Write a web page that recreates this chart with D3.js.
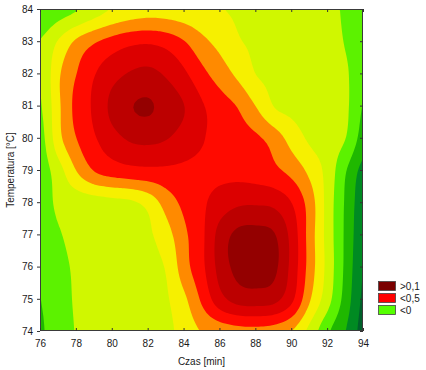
<!DOCTYPE html>
<html><head><meta charset="utf-8">
<script src="https://cdn.jsdelivr.net/npm/d3@7"></script>
<style>
body{margin:0;background:#fff}
svg{display:block}
text{font-family:"Liberation Sans",Arial,sans-serif;fill:#1a1a1a;font-size:10px}
</style>
</head><body>
<svg id="chart" width="426" height="370"></svg>
<script>
// ---- data ----
const xTicks = [76, 78, 80, 82, 84, 86, 88, 90, 92, 94];
const yTicks = [74, 75, 76, 77, 78, 79, 80, 81, 82, 83, 84];
const gridX = [76, 77, 78, 79, 80, 81, 82, 83, 84, 85, 86, 87, 88, 89, 90, 91, 92, 93, 94];
const gridY = [84, 83, 82, 81, 80, 79, 78, 77, 76, 75, 74];
// surface level read at each grid node (rows follow gridY, columns follow gridX)
const zRows = [
  [3.2, 3.6, 4.0, 4.6, 5.15, 5.5, 5.65, 5.6, 5.45, 5.25, 5.05, 4.9, 4.75, 4.6, 4.45, 4.3, 4.15, 3.9, 3.5],
  [4.1, 5.2, 6.3, 7.0, 7.5, 7.85, 7.95, 7.7, 7.1, 6.3, 5.7, 5.1, 4.85, 4.7, 4.55, 4.4, 4.25, 3.95, 3.5],
  [4.1, 5.9, 7.05, 8.0, 8.7, 9.15, 9.3, 8.9, 8.2, 7.3, 6.55, 5.8, 5.0, 4.8, 4.65, 4.5, 4.35, 4.1, 3.3],
  [3.95, 5.85, 7.35, 8.2, 9.3, 9.95, 10.1, 9.6, 9.0, 8.1, 7.5, 6.95, 6.0, 5.0, 4.75, 4.6, 4.45, 4.15, 2.9],
  [3.7, 5.7, 7.0, 7.9, 8.6, 9.1, 9.2, 9.0, 8.55, 8.05, 7.7, 7.45, 7.2, 6.6, 5.6, 4.85, 4.5, 3.95, 2.5],
  [3.5, 4.6, 6.0, 7.0, 7.4, 7.6, 7.7, 7.75, 7.75, 7.75, 7.75, 7.7, 7.55, 7.25, 6.7, 5.75, 4.6, 3.0, 1.6],
  [3.4, 4.25, 4.35, 4.45, 4.6, 4.75, 5.3, 6.4, 7.25, 7.85, 8.5, 8.9, 8.95, 8.8, 8.0, 6.5, 4.55, 2.8, 1.3],
  [3.25, 3.9, 4.3, 4.45, 4.55, 4.65, 4.85, 5.6, 6.8, 7.85, 9.45, 10.3, 10.4, 10.1, 8.6, 6.5, 4.55, 2.75, 1.15],
  [3.1, 3.7, 4.15, 4.35, 4.45, 4.55, 4.7, 5.1, 6.6, 7.8, 9.4, 10.3, 10.5, 10.2, 8.6, 6.5, 4.6, 2.7, 0.95],
  [3.0, 3.65, 4.1, 4.3, 4.4, 4.5, 4.6, 4.9, 5.8, 7.2, 8.6, 9.3, 9.4, 9.2, 8.1, 6.0, 4.3, 2.5, 0.75],
  [2.9, 3.6, 4.05, 4.2, 4.3, 4.4, 4.5, 4.75, 5.4, 6.05, 6.35, 6.55, 6.6, 6.45, 5.9, 4.6, 3.1, 1.95, 0.55]
];
const levels = [1, 2, 3, 4, 5, 6, 7, 8, 9, 10];
const bandColors = ["#00602a", "#008a22", "#1fb800", "#5cf200", "#d0f700", "#f6f000",
                    "#ff8a00", "#ff0a00", "#dc0000", "#bc0000", "#940000"];
const legendLabels = [">0,1", "<0,5", "<0"];
const legendColors = ["#7a0000", "#ff0000", "#55ff00"];
const xTitle = "Czas [min]";
const yTitle = "Temperatura [°C]";

// ---- layout ----
const L = 40, R = 363, T = 9, B = 331;
const svg = d3.select("#chart");
const x = d3.scaleLinear().domain([gridX[0], gridX[gridX.length - 1]]).range([L, R]);
const y = d3.scaleLinear().domain([gridY[gridY.length - 1], gridY[0]]).range([B, T]);

// ---- smooth resampling of the grid for drawing contours ----
const nCols = gridX.length, nRows = gridY.length, k = 8;
const nx = (nCols - 1) * k + 1, ny = (nRows - 1) * k + 1;
function cr(p0, p1, p2, p3, t) {
  return 0.5 * ((2 * p1) + (-p0 + p2) * t + (2 * p0 - 5 * p1 + 4 * p2 - p3) * t * t + (-p0 + 3 * p1 - 3 * p2 + p3) * t * t * t);
}
function at(r, c) {
  r = Math.max(0, Math.min(nRows - 1, r));
  c = Math.max(0, Math.min(nCols - 1, c));
  return zRows[r][c];
}
function sample(gx, gy) {
  const c = Math.min(Math.floor(gx), nCols - 2), r = Math.min(Math.floor(gy), nRows - 2);
  const tx = gx - c, ty = gy - r;
  const rowv = [];
  for (let j = -1; j <= 2; j++) {
    rowv.push(cr(at(r + j, c - 1), at(r + j, c), at(r + j, c + 1), at(r + j, c + 2), tx));
  }
  return cr(rowv[0], rowv[1], rowv[2], rowv[3], ty);
}
const values = new Float64Array(nx * ny);
for (let j = 0; j < ny; j++) for (let i = 0; i < nx; i++) values[j * nx + i] = sample(i / k, j / k);

const contours = d3.contours().size([nx, ny]).thresholds(levels)(values);
const dx = (gridX[1] - gridX[0]) / k, dy = (gridY[0] - gridY[1]) / k;
const path = d3.geoPath(d3.geoTransform({
  point(px, py) { this.stream.point(x(gridX[0] + px * dx), y(gridY[0] - py * dy)); }
}));

svg.append("clipPath").attr("id", "clip").append("rect")
  .attr("x", L).attr("y", T).attr("width", R - L).attr("height", B - T);
const g = svg.append("g").attr("clip-path", "url(#clip)");
g.append("rect").attr("x", L).attr("y", T).attr("width", R - L).attr("height", B - T)
  .attr("fill", bandColors[0]);
g.selectAll("path.band").data(contours).join("path")
  .attr("class", "band")
  .attr("d", path)
  .attr("fill", (d, i) => bandColors[i + 1]);

// frame
svg.append("rect").attr("x", L + 0.5).attr("y", T + 0.5).attr("width", R - L - 1).attr("height", B - T - 1)
  .attr("fill", "none").attr("stroke", "#3a3a3a").attr("stroke-width", 1);

// axes
const xAxis = svg.append("g").attr("transform", `translate(0,${B})`)
  .call(d3.axisBottom(x).tickValues(xTicks).tickSize(-3).tickPadding(9).tickFormat(d3.format("d")));
const yAxis = svg.append("g").attr("transform", `translate(${L},0)`)
  .call(d3.axisLeft(y).tickValues(yTicks).tickSize(3).tickPadding(4).tickFormat(d3.format("d")));
const xTop = svg.append("g").attr("transform", `translate(0,${T})`)
  .call(d3.axisTop(x).tickValues(xTicks).tickSize(-3).tickFormat(""));
const yRight = svg.append("g").attr("transform", `translate(${R},0)`)
  .call(d3.axisRight(y).tickValues(yTicks).tickSize(-3).tickFormat(""));
[xAxis, yAxis, xTop, yRight].forEach(a => {
  a.select(".domain").remove();
  a.selectAll(".tick line").attr("stroke", "#333");
  a.selectAll("text").attr("font-size", 10.5).attr("fill", "#1a1a1a")
    .attr("font-family", '"Liberation Sans", Arial, sans-serif');
});

// axis titles
svg.append("text").attr("x", (L + R) / 2).attr("y", 365).attr("text-anchor", "middle")
  .attr("font-size", 10.5).text(xTitle);
svg.append("text").attr("transform", `translate(14,${(T + B) / 2}) rotate(-90)`)
  .attr("text-anchor", "middle").attr("font-size", 10.5).text(yTitle);

// legend
const lg = svg.append("g");
legendLabels.forEach((lab, i) => {
  const yy = 281 + i * 12;
  lg.append("rect").attr("x", 378.5).attr("y", yy + 0.5).attr("width", 17).attr("height", 9)
    .attr("fill", legendColors[i]).attr("stroke", "#444").attr("stroke-width", 0.8);
  lg.append("text").attr("x", 400).attr("y", yy + 8.5).attr("font-size", 10.5).text(lab);
});
</script>
</body></html>
